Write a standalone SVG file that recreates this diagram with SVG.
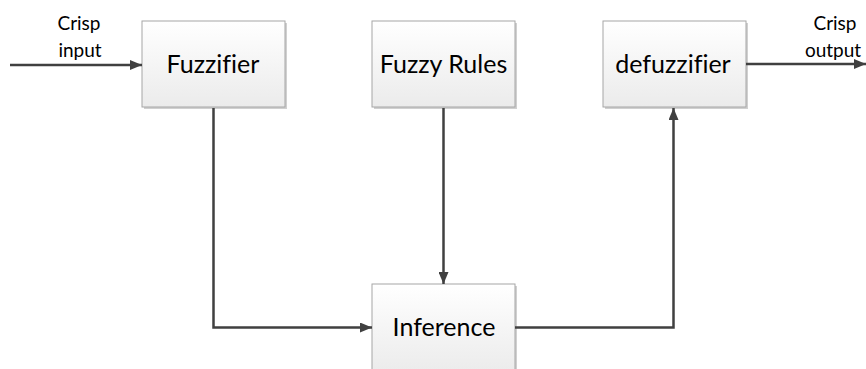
<svg xmlns="http://www.w3.org/2000/svg" width="866" height="369" viewBox="0 0 866 369">
<defs>
<linearGradient id="g" x1="0" y1="0" x2="0" y2="1">
<stop offset="0" stop-color="#ffffff"/>
<stop offset="1" stop-color="#ebebeb"/>
</linearGradient>
<marker id="ah" viewBox="0 0 12 10" refX="12" refY="5" markerWidth="12" markerHeight="10" markerUnits="userSpaceOnUse" orient="auto">
<path d="M0,0 L12,5 L0,10 z" fill="#404040"/>
</marker>
</defs>
<style>
.box{fill:url(#g);stroke:#a6a6a6;stroke-width:1}
.sh{fill:#d0d0d0}
.lbl{font-family:Lato,"Open Sans",sans-serif;font-size:25px;fill:#000;text-anchor:middle;font-variant-ligatures:none;font-feature-settings:"liga" 0,"clig" 0}
.sm{font-family:Lato,"Open Sans",sans-serif;font-size:19px;fill:#000;text-anchor:middle}
.c{fill:none;stroke:#404040;stroke-width:2.5}
</style>
<rect width="866" height="369" fill="#fff"/>
<g id="fuzzifier">
<rect class="sh" x="144" y="23" width="143" height="86"/>
<rect class="box" x="142" y="21" width="143" height="86"/>
<text class="lbl" x="213" y="73">Fuzzifier</text>
</g>
<g id="rules">
<rect class="sh" x="374" y="23" width="143" height="86"/>
<rect class="box" x="372" y="21" width="143" height="86"/>
<text class="lbl" x="443.5" y="73">Fuzzy Rules</text>
</g>
<g id="defuzzifier">
<rect class="sh" x="605" y="23" width="143" height="86"/>
<rect class="box" x="603" y="21" width="143" height="86"/>
<text class="lbl" x="673" y="73">defuzzifier</text>
</g>
<g id="inference">
<rect class="sh" x="374" y="286" width="143" height="90"/>
<rect class="box" x="372" y="284" width="143" height="90"/>
<text class="lbl" x="444" y="336">Inference</text>
</g>
<g id="labels">
<text class="sm" x="79" y="30">Crisp</text>
<text class="sm" x="80" y="57">input</text>
<text class="sm" x="835" y="30">Crisp</text>
<text class="sm" x="833" y="57">output</text>
</g>
<g id="connectors">
<line class="c" x1="10" y1="65" x2="142" y2="65" marker-end="url(#ah)"/>
<polyline class="c" points="213.5,108 213.5,327.5 372,327.5" marker-end="url(#ah)"/>
<line class="c" x1="443.5" y1="108" x2="443.5" y2="284" marker-end="url(#ah)"/>
<polyline class="c" points="515,327.5 673.5,327.5 673.5,108" marker-end="url(#ah)"/>
<line class="c" x1="746" y1="64" x2="866" y2="64" marker-end="url(#ah)"/>
</g>
</svg>
